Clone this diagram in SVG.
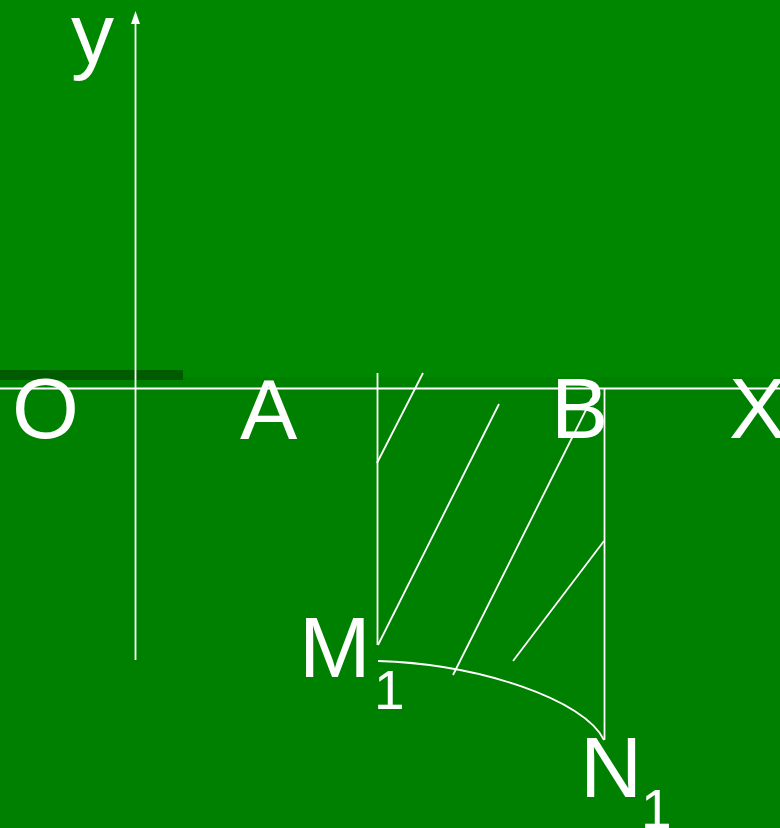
<svg xmlns="http://www.w3.org/2000/svg" width="780" height="828" viewBox="0 0 780 828">
<style>
.ln{stroke:#fff;stroke-width:1.8;fill:none}
.t{fill:#fff;font-family:"Liberation Sans",Arial,sans-serif;font-size:86px}
.s{fill:#fff;font-family:"Liberation Sans",Arial,sans-serif;font-size:55px}
</style>
<rect x="0" y="0" width="780" height="828" fill="#008000"/>
<rect x="0" y="0" width="780" height="377" fill="#008700"/>
<rect x="0" y="370" width="183" height="10" fill="#005a00"/>
<g id="axes">
<line class="ln" x1="0" y1="388.5" x2="780" y2="388.5"/>
<line class="ln" x1="135.5" y1="20" x2="135.5" y2="660"/>
<polygon points="135.5,11 131,24 140,24" fill="#fff"/>
</g>
<g id="region">
<line class="ln" x1="377.5" y1="373" x2="377.5" y2="645"/>
<line class="ln" x1="604.5" y1="388" x2="604.5" y2="740"/>
<path class="ln" d="M378,661 C480,664 585,700 604,740"/>
<line class="ln" x1="377" y1="463" x2="423" y2="373"/>
<line class="ln" x1="378" y1="645" x2="499" y2="404"/>
<line class="ln" x1="453" y1="675" x2="592" y2="398"/>
<line class="ln" x1="513" y1="661" x2="604" y2="541"/>
</g>
<g id="labels">
<text class="t" x="71" y="63">y</text>
<text class="t" x="12" y="438">O</text>
<text class="t" x="240" y="439">A</text>
<text class="t" x="551" y="438">B</text>
<text class="t" x="729" y="438">X</text>
<text class="t" x="299" y="677">M</text>
<text class="s" x="374" y="709">1</text>
<text class="t" x="580" y="797">N</text>
<text class="s" x="641" y="828">1</text>
</g>
</svg>
